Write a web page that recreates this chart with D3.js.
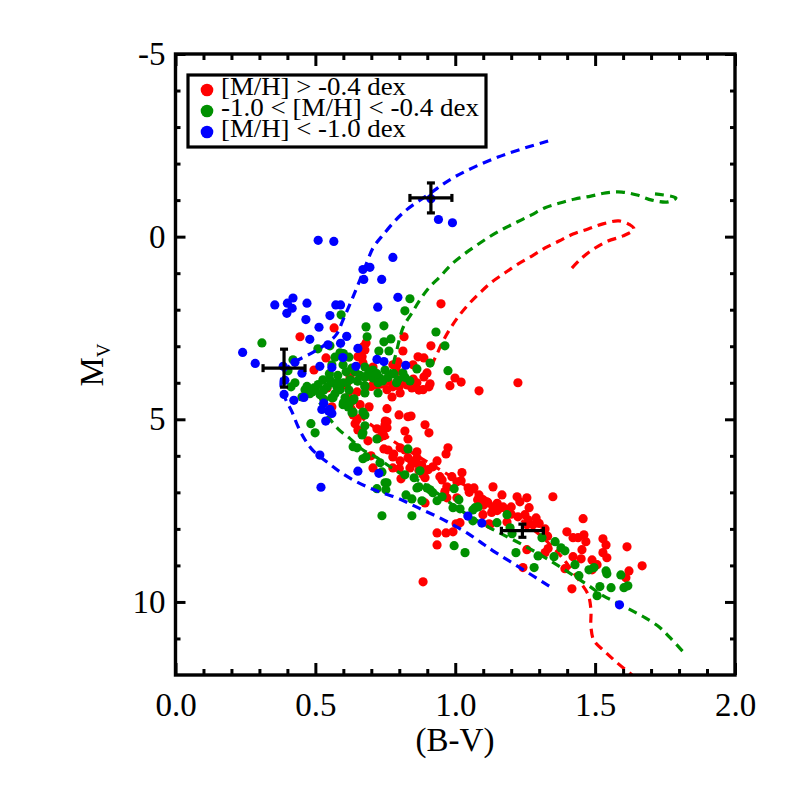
<!DOCTYPE html>
<html>
<head>
<meta charset="utf-8">
<script src="https://cdn.jsdelivr.net/npm/d3@7"></script>
<style>
  html, body { margin: 0; background: #fff; }
  text { font-family: "Liberation Serif", serif; fill: #000; }
  .tick line, .domain { stroke: #000; }
</style>
</head>
<body>
<div id="chart"></div>
<script>
const red = [[.949,1.84],[.567,2.50],[.445,2.74],[.817,2.74],[.681,2.91],[.677,3.10],[.913,2.99],[.813,3.13],[.867,3.29],[.888,3.32],[.667,3.29],[.538,3.32],[.795,3.43],[.849,3.51],[.777,3.51],[.495,3.65],[.706,3.57],[.888,3.84],[.899,3.73],[.999,3.87],[1.021,3.98],[.981,4.08],[1.085,4.22],[.910,4.03],[.906,4.11],[.885,4.19],[.863,4.00],[.845,4.14],[.828,4.06],[.803,4.28],[.774,4.39],[.756,4.19],[.777,4.11],[.720,4.06],[.692,4.66],[.756,4.71],[.613,4.00],[.542,4.14],[.559,4.66],[.799,4.88],[.831,4.93],[.842,4.91],[.892,5.15],[.906,5.37],[.756,5.07],[.749,5.15],[.649,5.01],[.642,5.12],[.652,5.29],[.720,5.26],[.738,5.29],[.756,5.23],[.745,5.45],[.820,5.32],[.831,5.54],[.688,5.59],[.974,5.78],[.967,5.95],[.745,5.81],[.760,5.84],[.803,5.78],[.820,5.84],[.863,5.89],[.777,6.03],[.699,6.00],[.803,6.14],[.831,6.05],[.845,6.16],[.863,6.05],[.935,6.14],[.777,6.33],[.706,6.33],[.838,6.33],[.920,6.30],[.903,6.38],[.885,6.52],[.892,6.60],[.806,6.63],[.945,6.57],[.953,6.66],[.988,6.57],[1.024,6.46],[1.021,6.68],[1.006,6.71],[.970,6.85],[.963,6.98],[.970,7.15],[1.006,7.15],[1.046,6.88],[1.067,6.88],[1.135,6.85],[1.167,7.07],[1.085,7.07],[1.099,7.20],[1.117,7.29],[1.135,7.40],[1.160,7.43],[1.185,7.48],[.892,7.29],[1.099,7.61],[1.017,7.83],[1.003,7.86],[1.121,7.86],[.935,8.11],[.967,8.11],[.992,8.08],[.935,8.44],[1.113,7.26],[1.171,7.40],[1.221,7.12],[1.231,7.26],[1.256,7.15],[1.264,7.42],[1.349,7.12],[1.249,7.61],[1.224,7.67],[1.289,7.70],[1.457,7.72],[1.256,7.89],[1.278,7.89],[1.321,8.00],[1.399,8.08],[1.421,8.24],[1.439,8.24],[1.460,8.16],[1.467,8.35],[1.528,8.27],[1.539,8.44],[1.453,8.57],[1.614,8.49],[1.256,8.57],[1.332,8.54],[1.321,8.65],[1.528,8.65],[1.542,8.79],[1.421,8.76],[1.450,8.82],[1.489,8.85],[1.507,8.98],[1.668,9.01],[1.621,9.15],[1.610,9.34],[1.392,9.09],[1.242,9.06],[1.417,9.64],[1.489,9.12],[1.124,7.89],[1.185,7.81],[.885,9.45],[1.224,4.0],[.670,3.02],[.652,3.29],[.624,3.84],[.606,4.06],[.649,4.25],[.617,4.39],[.635,4.88],[.70,3.85],[.76,3.95],[.80,4.1],[.82,3.95],[.85,3.9],[.87,4.2],[.79,3.7],[.79,3.55],[.63,4.5],[.66,4.6],[.70,4.1],[.66,3.1],[.67,3.45],[.86,6.2],[.88,6.25],[.87,6.4],[.80,6.35],[.78,5.95],[.75,5.05],[.74,5.35],[.73,5.5],[1.15,7.3],[1.2,7.6],[1.26,7.75],[1.3,7.85],[1.33,8.2],[1.05,7.0],[1.08,7.2],[1.1,7.35],[1.13,7.55],[1.15,7.5],[1.2,7.4]];

const green = [[.838,1.70],[.820,2.03],[.592,2.14],[.681,2.47],[.745,2.44],[.931,2.61],[.685,2.74],[.770,2.80],[.745,2.88],[.963,2.99],[.309,2.91],[.509,3.07],[.727,3.13],[.763,3.13],[.552,2.99],[.910,3.46],[.974,3.67],[.863,3.62],[.838,3.95],[.795,3.92],[.724,4.28],[.677,4.28],[.677,4.08],[.420,3.37],[.402,3.67],[.427,4.00],[.413,4.11],[.452,4.39],[.563,4.41],[.638,4.44],[.463,4.19],[.488,4.25],[.517,4.33],[.495,4.14],[.527,3.92],[.552,3.92],[.542,4.11],[.577,4.11],[.559,4.41],[.588,4.19],[.606,4.41],[.617,4.66],[.635,4.47],[.588,3.18],[.599,3.51],[.559,3.51],[.677,3.57],[.642,3.70],[.624,3.92],[.677,4.11],[.677,3.84],[.706,3.87],[.670,4.80],[.635,4.80],[.813,3.73],[.749,3.65],[.731,3.87],[.706,3.65],[.724,4.00],[.599,4.60],[.631,4.82],[.677,4.88],[.677,5.18],[.667,5.43],[.670,5.37],[.720,5.54],[.635,5.75],[.649,5.78],[.670,6.08],[.681,6.03],[.731,6.19],[.738,6.44],[.756,6.74],[.720,6.90],[.831,5.81],[.820,6.52],[.874,6.41],[.853,6.60],[.870,6.85],[.899,6.88],[.484,5.12],[.499,5.37],[.738,7.64],[.845,7.64],[.749,6.74],[.752,6.93],[.824,7.07],[.845,7.18],[.881,7.23],[.863,6.88],[.910,6.93],[.920,7.01],[.935,7.23],[.953,7.12],[.996,6.90],[1.013,7.20],[.992,7.42],[1.017,7.45],[1.063,7.48],[1.081,7.40],[1.063,7.78],[1.149,7.83],[1.185,7.61],[.996,8.46],[1.035,8.65],[1.071,7.42],[1.196,7.97],[1.203,8.13],[1.217,8.65],[1.282,9.06],[1.296,8.74],[1.310,8.24],[1.353,8.76],[1.357,8.35],[1.378,8.52],[1.392,8.60],[1.428,8.98],[1.478,9.12],[1.496,9.06],[1.442,9.28],[1.539,9.15],[1.542,9.23],[1.592,9.26],[1.557,9.61],[1.517,9.58],[1.507,9.83],[1.603,9.61],[1.617,9.56],[.47,4.1],[.50,4.2],[.53,4.2],[.56,4.0],[.60,4.0],[.62,4.2],[.58,3.8],[.55,3.75],[.61,3.7],[.63,3.6],[.65,3.95],[.66,3.8],[.69,3.75],[.72,3.75],[.74,3.95],[.76,3.85],[.78,3.75],[.79,4.0],[.82,3.85],[.57,3.3],[.60,3.2],[.62,3.3],[.48,4.3],[.51,4.05],[.53,4.45],[.57,4.3],[.60,4.55],[.62,4.6],[.58,4.0]];

const blue = [[.51,.1],[.566,.13],[.94,-.47],[.99,-.38],[.913,-1.04],[.777,.57],[.695,.84],[.67,.9],[.673,1.17],[.737,1.17],[.795,1.66],[.723,1.93],[.42,1.68],[.40,1.82],[.47,1.82],[.355,1.87],[.417,1.96],[.398,2.1],[.573,1.87],[.59,1.87],[.552,2.16],[.466,2.27],[.513,2.48],[.48,2.81],[.612,2.73],[.59,2.92],[.545,2.96],[.652,3.06],[.24,3.17],[.285,3.47],[.598,3.31],[.72,3.36],[.745,3.42],[.823,3.52],[.516,3.55],[.559,3.58],[.645,3.55],[.385,3.55],[.427,3.44],[.452,3.74],[.391,3.93],[.388,4.32],[.423,4.48],[.459,4.4],[.53,4.56],[.523,4.73],[.552,4.73],[.559,4.84],[.548,4.78],[.537,5.05],[.516,5.98],[.652,6.42],[.727,6.48],[.52,6.86],[1.045,7.65],[1.095,7.84],[1.587,10.08]];

const redLine = [[1.417,.86],[1.453,.58],[1.500,.31],[1.546,.12],[1.600,-.02],[1.639,-.21],[1.625,-.32],[1.585,-.43],[1.528,-.35],[1.475,-.21],[1.421,-.07],[1.371,.12],[1.321,.31],[1.274,.53],[1.224,.75],[1.178,.99],[1.131,1.24],[1.088,1.54],[1.049,1.84],[1.013,2.17],[.981,2.53],[.953,2.91],[.928,3.32],[.903,3.65],[.838,4.00],[.713,4.14],[.624,4.33],[.649,4.82],[.713,5.23],[.777,5.59],[.874,6.05],[.963,6.46],[1.088,7.07],[1.206,7.61],[1.303,8.17],[1.374,8.71],[1.410,9.06],[1.446,9.45],[1.475,9.80],[1.485,10.21],[1.485,10.68],[1.496,11.06],[1.535,11.36],[1.578,11.66],[1.632,12.0]];

const greenLine = [[1.714,-1.17],[1.789,-1.06],[1.761,-.95],[1.703,-1.00],[1.650,-1.14],[1.596,-1.22],[1.539,-1.20],[1.485,-1.11],[1.428,-1.03],[1.374,-.92],[1.321,-.79],[1.271,-.59],[1.221,-.40],[1.171,-.21],[1.121,.01],[1.074,.25],[1.028,.50],[.985,.77],[.945,1.10],[.906,1.40],[.874,1.73],[.845,2.09],[.813,2.50],[.785,3.29],[.767,3.70],[.713,3.92],[.624,4.06],[.552,4.06],[.509,4.33],[.542,4.88],[.581,5.26],[.624,5.53],[.670,5.84],[.720,6.05],[.767,6.30],[.813,6.52],[.863,6.66],[.910,6.88],[1.017,7.48],[1.124,7.97],[1.242,8.44],[1.346,8.90],[1.435,9.34],[1.482,9.58],[1.528,9.83],[1.578,10.02],[1.632,10.24],[1.678,10.43],[1.728,10.68],[1.768,10.98],[1.814,11.36]];

const blueLine = [[1.332,-2.62],[1.153,-2.18],[.999,-1.64],[.913,-1.20],[.813,-.65],[.742,-.05],[.706,.31],[.685,.69],[.642,1.51],[.599,2.28],[.574,2.69],[.534,2.96],[.488,3.18],[.427,3.43],[.388,3.70],[.377,4.06],[.391,4.41],[.416,4.79],[.438,5.20],[.463,5.56],[.492,5.86],[.545,6.19],[.588,6.44],[.635,6.66],[.685,6.85],[.738,7.01],[.792,7.15],[.845,7.34],[.892,7.51],[.945,7.70],[.992,7.89],[1.042,8.11],[1.088,8.35],[1.135,8.60],[1.231,9.06],[1.339,9.58]];

const errorBars = [[.913,-1.06,.075,.41],[.388,3.6,.075,.52],[1.24,8.05,.075,.18]];

const legendLabels = ["[M/H] > -0.4 dex", "-1.0 < [M/H] < -0.4 dex", "[M/H] < -1.0 dex"];
const legendWidths = [185, 258, 185];
const xMajor = [0, .5, 1, 1.5, 2];
const xMinor = d3.range(0, 20).map(i => i / 10).filter(v => !xMajor.includes(v));
const yMajor = [-5, 0, 5, 10];
const yMinor = d3.range(-4, 12).filter(v => !yMajor.includes(v));

const w = 786, h = 786;
const x0 = 175.5, x1 = 735, y0 = 54, y1 = 675;

const xScale = d3.scaleLinear().domain([0, 2]).range([x0, x1]);
const yScale = d3.scaleLinear().domain([-5, 12]).range([y0, y1]);

const svg = d3.select("#chart").append("svg").attr("width", w).attr("height", h);

svg.append("clipPath").attr("id", "plot").append("rect")
   .attr("x", x0).attr("y", y0).attr("width", x1 - x0).attr("height", y1 - y0);

const line = d3.line().x(d => xScale(d[0])).y(d => yScale(d[1])).curve(d3.curveCatmullRom);
const series = [
  { color: "#ff0000", pts: red, iso: redLine },
  { color: "#009000", pts: green, iso: greenLine },
  { color: "#0000ff", pts: blue, iso: blueLine }
];

const plot = svg.append("g").attr("clip-path", "url(#plot)");
series.forEach(s => {
  plot.append("path").datum(s.iso)
      .attr("d", line)
      .attr("fill", "none")
      .attr("stroke", s.color)
      .attr("stroke-width", 3.2)
      .attr("stroke-dasharray", "9 6");
  plot.selectAll(null).data(s.pts).enter().append("circle")
      .attr("cx", d => xScale(d[0]))
      .attr("cy", d => yScale(d[1]))
      .attr("r", 4.6)
      .attr("fill", s.color);
});

const bars = svg.append("g").attr("stroke", "#000").attr("stroke-width", 3.2).attr("fill", "none");
errorBars.forEach(e => {
  const [x, y, dx, dy] = e;
  bars.append("line").attr("x1", xScale(x - dx)).attr("x2", xScale(x + dx)).attr("y1", yScale(y)).attr("y2", yScale(y));
  bars.append("line").attr("x1", xScale(x)).attr("x2", xScale(x)).attr("y1", yScale(y - dy)).attr("y2", yScale(y + dy));
  bars.append("line").attr("x1", xScale(x - dx)).attr("x2", xScale(x - dx)).attr("y1", yScale(y) - 4).attr("y2", yScale(y) + 4);
  bars.append("line").attr("x1", xScale(x + dx)).attr("x2", xScale(x + dx)).attr("y1", yScale(y) - 4).attr("y2", yScale(y) + 4);
  bars.append("line").attr("x1", xScale(x) - 4).attr("x2", xScale(x) + 4).attr("y1", yScale(y - dy)).attr("y2", yScale(y - dy));
  bars.append("line").attr("x1", xScale(x) - 4).attr("x2", xScale(x) + 4).attr("y1", yScale(y + dy)).attr("y2", yScale(y + dy));
});

function addAxis(axis, tx, ty, labelled) {
  const g = svg.append("g").attr("transform", `translate(${tx}, ${ty})`).call(axis);
  g.select(".domain").remove();
  g.selectAll(".tick line").attr("stroke-width", 3);
  if (labelled) g.selectAll("text").attr("font-family", '"Liberation Serif", serif').attr("font-size", 33);
  else g.selectAll("text").remove();
  return g;
}

addAxis(d3.axisBottom(xScale).tickValues(xMajor).tickSize(-12).tickPadding(18).tickFormat(d3.format(".1f")), 0, y1, true);
addAxis(d3.axisBottom(xScale).tickValues(xMinor).tickSize(-6), 0, y1, false);
addAxis(d3.axisTop(xScale).tickValues(xMajor).tickSize(-12), 0, y0, false);
addAxis(d3.axisTop(xScale).tickValues(xMinor).tickSize(-6), 0, y0, false);
addAxis(d3.axisLeft(yScale).tickValues(yMajor).tickSize(-10).tickPadding(10).tickFormat(d => String(d)), x0, 0, true);
addAxis(d3.axisLeft(yScale).tickValues(yMinor).tickSize(-5), x0, 0, false);
addAxis(d3.axisRight(yScale).tickValues(yMajor).tickSize(-10), x1, 0, false);
addAxis(d3.axisRight(yScale).tickValues(yMinor).tickSize(-5), x1, 0, false);

svg.append("rect")
   .attr("x", x0).attr("y", y0).attr("width", x1 - x0).attr("height", y1 - y0)
   .attr("fill", "none").attr("stroke", "#000").attr("stroke-width", 3.4);

svg.append("text")
   .attr("x", 455).attr("y", 751)
   .attr("text-anchor", "middle").attr("font-size", 33)
   .text("(B-V)");

const yLabel = svg.append("text")
   .attr("transform", "translate(103, 365) rotate(-90)")
   .attr("text-anchor", "middle").attr("font-size", 33);
yLabel.append("tspan").text("M");
yLabel.append("tspan").attr("font-size", 19).attr("dy", 7).text("V");

const legend = svg.append("g");
legend.append("rect")
      .attr("x", 188).attr("y", 75).attr("width", 298).attr("height", 72)
      .attr("fill", "#fff").attr("stroke", "#000").attr("stroke-width", 3.2);
legendLabels.forEach((label, i) => {
  legend.append("circle")
        .attr("cx", 207).attr("cy", 90 + i * 21).attr("r", 6.3)
        .attr("fill", series[i].color);
  legend.append("text")
        .attr("x", 221).attr("y", 95 + i * 21)
        .attr("font-size", 25)
        .attr("textLength", legendWidths[i])
        .attr("lengthAdjust", "spacingAndGlyphs")
        .text(label);
});
</script>
</body>
</html>
